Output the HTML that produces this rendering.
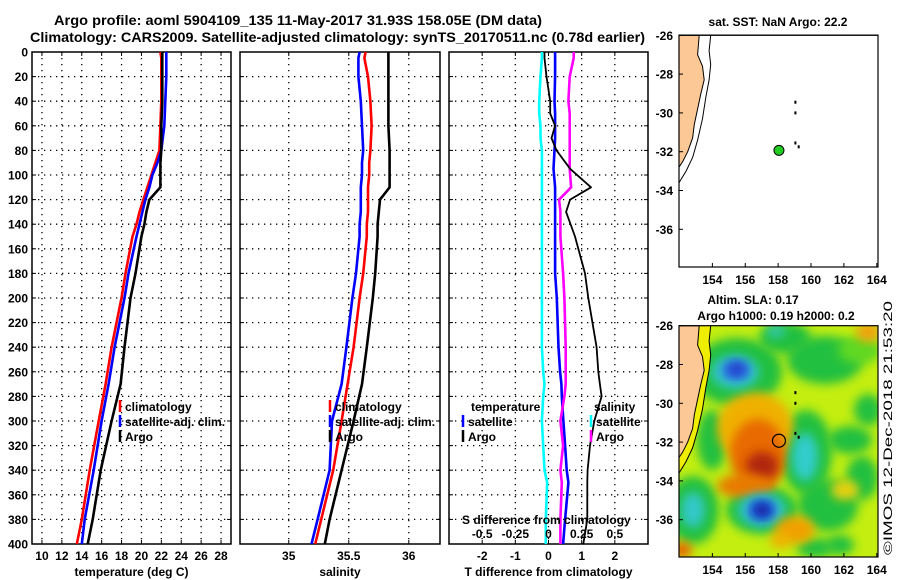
<!DOCTYPE html>
<html><head><meta charset="utf-8"><style>
body{margin:0;background:#fff}
svg{display:block;font-family:"Liberation Sans",Arial,sans-serif;font-weight:bold}
</style></head><body>
<svg id="c" width="900" height="580" viewBox="0 0 900 580" xmlns="http://www.w3.org/2000/svg">
<defs>
<filter id="bl" x="-50%" y="-50%" width="200%" height="200%"><feGaussianBlur stdDeviation="5"/></filter>
<clipPath id="mclip"><rect x="679" y="326" width="199" height="231"/></clipPath>
</defs>
<text x="54" y="25" font-size="14" textLength="488" lengthAdjust="spacingAndGlyphs">Argo profile: aoml 5904109_135 11-May-2017 31.93S 158.05E (DM data)</text>
<text x="30" y="42" font-size="14" textLength="615" lengthAdjust="spacingAndGlyphs">Climatology: CARS2009. Satellite-adjusted climatology: synTS_20170511.nc (0.78d earlier)</text>
<g id="panels"></g>
<g id="maps"></g>
<text transform="translate(892,555) rotate(-90)" font-size="12" font-weight="normal" textLength="254" lengthAdjust="spacingAndGlyphs">©IMOS 12-Dec-2018 21:53:20</text>
</svg>
<script>
// ---- data ----
const depthT = [0,5,20,40,60,80,90,100,110,120,130,140,150,180,200,240,270,300,340,380,400];
const tempClim = [21.9,22.0,22.0,22.0,21.9,21.8,21.4,21.0,20.6,20.2,19.8,19.5,19.1,18.4,18.0,17.0,16.4,15.7,14.8,14.0,13.5];
const tempSat  = [22.5,22.5,22.5,22.4,22.3,22.0,21.6,21.1,20.8,20.4,20.1,19.8,19.5,18.7,18.3,17.3,16.7,16.0,15.2,14.3,14.0];
const tempArgo = [22.1,22.1,22.1,22.1,22.0,22.0,21.9,21.9,21.9,20.8,20.5,20.3,20.0,19.4,18.9,18.3,17.9,17.0,15.9,15.1,14.6];
const salClim = [35.64,35.63,35.66,35.68,35.69,35.68,35.67,35.67,35.66,35.66,35.66,35.65,35.65,35.62,35.59,35.54,35.49,35.44,35.37,35.27,35.22];
const salSat  = [35.59,35.58,35.58,35.60,35.61,35.62,35.61,35.61,35.60,35.60,35.60,35.59,35.59,35.56,35.53,35.48,35.44,35.36,35.34,35.24,35.19];
const salArgo = [35.83,35.83,35.83,35.83,35.83,35.84,35.84,35.84,35.84,35.76,35.75,35.74,35.74,35.72,35.70,35.65,35.61,35.54,35.44,35.34,35.30];
const depthD = [0,5,20,40,50,60,70,80,95,110,120,130,150,180,200,240,260,270,280,300,320,340,350,380,400];
const tDiffSat  = [0.2,0.2,0.2,0.18,0.2,0.2,0.2,0.18,0.15,0.2,0.2,0.2,0.2,0.2,0.25,0.3,0.35,0.39,0.4,0.45,0.5,0.55,0.6,0.5,0.44];
const tDiffArgo = [-0.12,-0.12,-0.06,0.05,0.05,0.2,0.09,0.24,0.65,1.28,0.65,0.53,0.8,1.1,1.2,1.45,1.5,1.55,1.6,1.38,1.25,1.18,1.17,1.17,1.05];
const sDiffSat  = [-0.05,-0.05,-0.06,-0.07,-0.07,-0.06,-0.06,-0.05,-0.05,-0.05,-0.05,-0.05,-0.05,-0.05,-0.05,-0.05,-0.04,-0.03,-0.04,-0.05,-0.04,-0.03,-0.01,-0.02,-0.02];
const sDiffArgo = [0.19,0.19,0.16,0.15,0.16,0.16,0.16,0.16,0.16,0.17,0.08,0.09,0.09,0.11,0.12,0.13,0.13,0.13,0.12,0.09,0.11,0.09,0.1,0.09,0.09];
const depthTicks = [0,20,40,60,80,100,120,140,160,180,200,220,240,260,280,300,320,340,360,380,400];
const tempTicks = [10,12,14,16,18,20,22,24,26,28];
const salTicks = [35,35.5,36];
const diffTicks = [-2,-1,0,1,2];
const sDiffTickLabels = ["-0.5","-0.25","0","0.25","0.5"];
const lonTicks = [154,156,158,160,162,164];
const latTicks = [-26,-28,-30,-32,-34,-36];

const NS="http://www.w3.org/2000/svg";
function mk(tag,attrs,parent){const e=document.createElementNS(NS,tag);for(const k in attrs)e.setAttribute(k,attrs[k]);parent.appendChild(e);return e;}
const P=document.getElementById('panels');
const top0=52, bot=544;
const Y=d=>top0+(d/400)*(bot-top0);
const panels=[
 {x0:32,x1:231,v0:9,v1:29,ticks:tempTicks,label:"temperature (deg C)",name:"temperature-panel",labels:tempTicks.map(String)},
 {x0:240,x1:440,v0:34.594,v1:36.26,ticks:salTicks,label:"salinity",name:"salinity-panel",labels:["35","35.5","36"]},
 {x0:449,x1:648,v0:-3,v1:3,ticks:diffTicks,label:"T difference from climatology",name:"difference-panel",labels:diffTicks.map(String)}
];
panels.forEach((p,pi)=>{
 p.X=v=>p.x0+(v-p.v0)/(p.v1-p.v0)*(p.x1-p.x0);
 const g=mk('g',{},P);
 
 
 depthTicks.forEach(d=>{ if(d>0&&d<400) mk('line',{x1:p.x0,x2:p.x1,y1:Y(d),y2:Y(d),stroke:'#000','stroke-width':1.3,'stroke-dasharray':'1.3 4.7'},g);
   mk('line',{x1:p.x0,x2:p.x0+4,y1:Y(d),y2:Y(d),stroke:'#000'},g); mk('line',{x1:p.x1-4,x2:p.x1,y1:Y(d),y2:Y(d),stroke:'#000'},g);});
 p.ticks.forEach((t,i)=>{const x=p.X(t);
   mk('line',{x1:x,x2:x,y1:top0,y2:bot,stroke:'#000','stroke-width':1.3,'stroke-dasharray':'1.3 4.7'},g);
   mk('line',{x1:x,x2:x,y1:bot-4,y2:bot,stroke:'#000'},g);mk('line',{x1:x,x2:x,y1:top0,y2:top0+4,stroke:'#000'},g);
   const tx=mk('text',{x:x,y:560,'font-size':12,'text-anchor':'middle'},g);tx.textContent=p.labels[i];
   
   });
 mk('rect',{x:p.x0,y:top0,width:p.x1-p.x0,height:bot-top0,fill:'none',stroke:'#000','stroke-width':1.5},g);
 const xl=mk('text',{x:(p.x0+p.x1)/2,y:576,'font-size':12,'text-anchor':'middle'},g);xl.textContent=p.label;
 
 
});
depthTicks.forEach(d=>{const t=mk('text',{x:28,y:Y(d)+4.5,'font-size':12,'text-anchor':'end'},P);t.textContent=d;
 
 });
function series(p,depths,vals,col,w,name,scale){
 const pts=vals.map((v,i)=>p.X(v*(scale||1)).toFixed(1)+','+Y(depths[i]).toFixed(1)).join(' ');
 const l=mk('polyline',{points:pts,fill:'none',stroke:col,'stroke-width':w,'stroke-linejoin':'round'},P);
 
 
}
const [p1,p2,p3]=panels;
series(p1,depthT,tempClim,'#f00',2.6,'temp-climatology-line');
series(p1,depthT,tempSat,'#00f',2.6,'temp-satellite-line');
series(p1,depthT,tempArgo,'#000',2.6,'temp-argo-line');
series(p2,depthT,salClim,'#f00',2.6,'sal-climatology-line');
series(p2,depthT,salSat,'#00f',2.6,'sal-satellite-line');
series(p2,depthT,salArgo,'#000',2.6,'sal-argo-line');
series(p3,depthD,sDiffSat,'#0ff',2.6,'sdiff-satellite-line',4);
series(p3,depthD,tDiffSat,'#00f',2.6,'tdiff-satellite-line');
series(p3,depthD,sDiffArgo,'#f0f',2.6,'sdiff-argo-line',4);
series(p3,depthD,tDiffArgo,'#000',1.8,'tdiff-argo-line');
function legend(x,y,col,txt){ if(col) mk('line',{x1:x,x2:x,y1:y-11,y2:y+1,stroke:col,'stroke-width':2.5},P);
 const t=mk('text',{x:x+(col?5:0),y:y,'font-size':12},P);t.textContent=txt;
 
 }
legend(120,411,'#f00','climatology');legend(120,426,'#00f','satellite-adj. clim.');legend(120,441,'#000','Argo');
legend(330,411,'#f00','climatology');legend(330,426,'#00f','satellite-adj. clim.');legend(330,441,'#000','Argo');
legend(471,411,null,'temperature');legend(463,426,'#00f','satellite');legend(463,441,'#000','Argo');
legend(594,411,null,'salinity');legend(591,426,'#0ff','satellite');legend(591,441,'#f0f','Argo');
legend(462,524,null,'S difference from climatology');
sDiffTickLabels.forEach((s,i)=>{const t=mk('text',{x:p3.X(diffTicks[i]),y:538,'font-size':12,'text-anchor':'middle'},P);t.textContent=s;
 
 });

// ---- maps ----
const M=document.getElementById('maps');
const LX=lon=>679+(lon-151.97)*16.44;
const coast=[[151.97,-26],[153.2,-26],[153.1,-27],[153.4,-27.6],[153.5,-28.3],[153.3,-29],[153.1,-29.8],[152.9,-30.6],[152.8,-31.3],[152.5,-32],[152.2,-32.5],[151.97,-32.8]];
const shelf=[[153.9,-26],[153.8,-26.8],[153.9,-27.5],[153.8,-28.3],[153.6,-29.2],[153.4,-30.3],[153.1,-31.4],[152.8,-32.3],[152.4,-33],[151.97,-33.6]];
const islands=[[159.05,-29.45],[159.05,-30],[159.05,-31.55],[159.25,-31.75]];
function map(yTop,name){
 const LY=lat=>yTop+(-26-lat)*19.4;
 const g=mk('g',{},M);
 
 
 return {g,LY};
}
const m1=map(35.3,'sst-map');
mk('rect',{x:679,y:35,width:199,height:232,fill:'#fff',stroke:'#000'},m1.g);
const m2=map(325.7,'sla-map');
const hg=mk('g',{'clip-path':'url(#mclip)'},m2.g);
mk('rect',{x:679,y:326,width:199,height:231,fill:'#c4ee10'},hg);
const G='#20c040';
const blobs=[
 [737,372,45,34,G],[785,338,26,16,G],[776,331,9,7,'#33c8a8'],[825,360,38,24,G],[860,350,22,14,'#60d820'],
 [868,332,12,10,'#f0a010'],[712,440,15,30,G],[806,452,26,42,G],[850,440,22,14,G],[868,410,14,16,G],
 [693,510,26,34,G],[762,510,36,24,G],[828,505,30,26,G],[862,478,16,22,G],[815,548,18,10,G],[840,545,14,10,G],
 [755,428,38,36,'#f0b000'],[758,455,28,36,'#e86a00'],[762,466,16,14,'#b02810'],[745,486,28,12,'#e87a00'],
 [735,372,24,17,'#30c8c8'],[736,370,14,10,'#2a5ee8'],[737,369,7,6,'#2040c0'],[805,457,13,24,'#30cccc'],
 [762,510,24,17,'#30c8c8'],[762,510,14,11,'#2050e0'],[762,510,7,6,'#102090'],[693,510,12,18,'#30c8c8'],
 [795,530,20,14,'#f0a000'],[682,550,10,8,'#e86000'],[845,490,14,10,'#e8d010'],[780,540,10,8,'#f0b000']];
blobs.forEach(b=>mk('ellipse',{cx:b[0],cy:b[1],rx:b[2],ry:b[3],fill:b[4],filter:'url(#bl)'},hg));
[m1,m2].forEach((m,i)=>{
 const bottom=i===0?267:557;
 const pts=coast.map(c=>LX(c[0]).toFixed(1)+','+m.LY(c[1]).toFixed(1)).join(' ');
 if(i===1) mk('polygon',{points:shelf.map(c=>LX(c[0]).toFixed(1)+','+m.LY(c[1]).toFixed(1)).join(' ')+' '+pts.split(' ').reverse().join(' '),fill:'#f0ee00',stroke:'none'},m.g);
 mk('polygon',{points:pts,fill:'#fcc896',stroke:'#000','stroke-width':1},m.g);
 mk('polyline',{points:shelf.map(c=>LX(c[0]).toFixed(1)+','+m.LY(c[1]).toFixed(1)).join(' '),fill:'none',stroke:'#000','stroke-width':1},m.g);
 islands.forEach(s=>mk('rect',{x:LX(s[0])-1,y:m.LY(s[1])-1.5,width:2,height:3,fill:'#000'},m.g));
 mk('rect',{x:679,y:m.LY(-26),width:199,height:bottom-m.LY(-26),fill:'none',stroke:'#000','stroke-width':1.2},m.g);
 lonTicks.forEach(l=>{const x=LX(l);mk('line',{x1:x,x2:x,y1:bottom-4,y2:bottom,stroke:'#000'},m.g);
  const t=mk('text',{x:x,y:bottom+17,'font-size':12,'text-anchor':'middle'},m.g);t.textContent=l;
  
  });
 latTicks.forEach(l=>{const y=m.LY(l);mk('line',{x1:679,x2:683,y1:y,y2:y,stroke:'#000'},m.g);
  const t=mk('text',{x:673,y:y+4.5,'font-size':12,'text-anchor':'end'},m.g);t.textContent=l;
  
  });
});
const dot=mk('circle',{cx:LX(158.05),cy:m1.LY(-31.93),r:5,fill:'#22cc22',stroke:'#000'},M);


const dot2=mk('circle',{cx:LX(158.05),cy:m2.LY(-31.93),r:6.5,fill:'none',stroke:'#000','stroke-width':1.2},M);


[[778,26,'sat. SST: NaN Argo: 22.2','sst-map-title'],[753,304,'Altim. SLA: 0.17','sla-map-title'],[776,320,'Argo h1000: 0.19 h2000: 0.2','argo-height-title']].forEach(a=>{
 const t=mk('text',{x:a[0],y:a[1],'font-size':12,'text-anchor':'middle'},M);t.textContent=a[2];
 
 });
</script>
</body></html>
